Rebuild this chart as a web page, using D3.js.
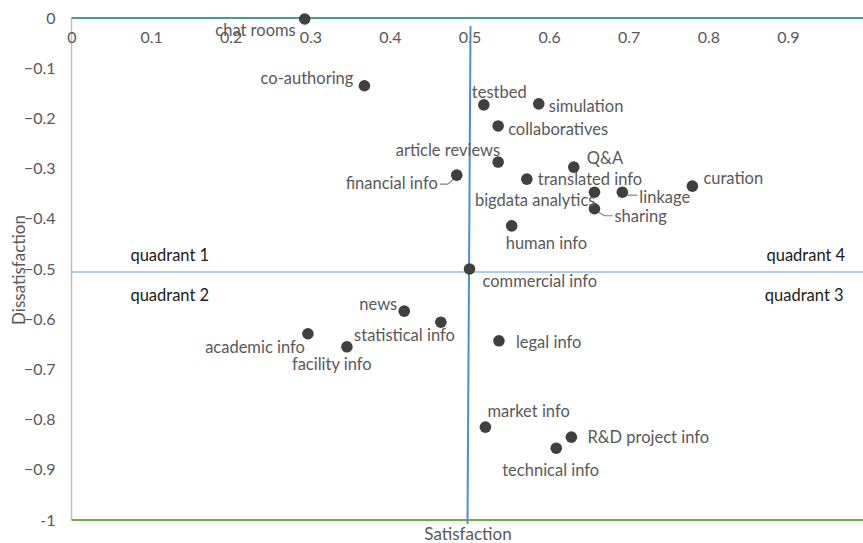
<!DOCTYPE html>
<html>
<head>
<meta charset="utf-8">
<script src="https://cdn.jsdelivr.net/npm/d3@7"></script>
<style>
  html, body { margin: 0; padding: 0; background: #fff; }
  svg { display: block; }
  text { font-family: Lato, "Liberation Sans", sans-serif; }
</style>
</head>
<body>
<svg id="chart" width="863" height="543"></svg>
<script>
// ---- data ----
const names = ["chat rooms","co-authoring","testbed","simulation","collaboratives","article reviews",
  "financial info","Q&A","translated info","bigdata analytics","linkage","curation","sharing",
  "human info","commercial info","news","statistical info","academic info","facility info",
  "legal info","market info","R&D project info","technical info"];
const satisfaction = [0.293,0.368,0.518,0.587,0.536,0.536,0.484,0.631,0.572,0.657,0.692,0.780,0.657,
  0.553,0.500,0.418,0.464,0.297,0.346,0.537,0.520,0.628,0.609];
const dissatisfaction = [-0.002,-0.135,-0.173,-0.171,-0.215,-0.287,-0.313,-0.297,-0.321,-0.347,-0.347,-0.335,-0.380,
  -0.414,-0.500,-0.584,-0.606,-0.629,-0.655,-0.643,-0.815,-0.835,-0.857];
const xTicks = [0,0.1,0.2,0.3,0.4,0.5,0.6,0.7,0.8,0.9];
const yTicks = [0,-0.1,-0.2,-0.3,-0.4,-0.5,-0.6,-0.7,-0.8,-0.9,-1];
const quadrantNames = ["quadrant 1","quadrant 2","quadrant 3","quadrant 4"];
const quadrantX = [0.074,0.074,0.970,0.972];
const quadrantY = [-0.472,-0.552,-0.552,-0.472];
const dividerSatisfaction = 0.5;
const dividerDissatisfaction = -0.506;

// ---- layout (label placement relative to marker) ----
const labelLayout = {
  "chat rooms": [-9, 11, "end"],
  "co-authoring": [-11, -8, "end"],
  "testbed": [-12, -13, "start"],
  "simulation": [10, 2, "start"],
  "collaboratives": [10, 3, "start"],
  "article reviews": [2, -12, "end"],
  "financial info": [-19, 8, "end", [[-17,9],[-9,9],[-2,3]]],
  "Q&A": [13, -9, "start"],
  "translated info": [11, 0, "start"],
  "bigdata analytics": [1, 8, "end"],
  "linkage": [17, 5, "start", [[3,3],[15,3]]],
  "curation": [11, -8, "start"],
  "sharing": [20, 7, "start", [[3,3],[10,7],[18,7]]],
  "human info": [-6, 17, "start"],
  "commercial info": [13, 12, "start"],
  "news": [-7, -7, "end"],
  "statistical info": [14, 13, "end"],
  "academic info": [-3, 13, "end"],
  "facility info": [-55, 17, "start"],
  "legal info": [17, 1, "start"],
  "market info": [2, -16, "start"],
  "R&D project info": [16, 0, "start"],
  "technical info": [-54, 22, "start"]
};

const svg = d3.select("#chart");
const x = d3.scaleLinear().domain([0, 1]).range([71.5, 867.5]);
const y = d3.scaleLinear().domain([-1, 0]).range([520, 18]);
const gray = "#595959";
const FS = 16.5;

// vertical axis line
svg.append("line").attr("x1", x(0)).attr("x2", x(0)).attr("y1", y(0)).attr("y2", y(-1))
  .attr("stroke", "#bfbfbf").attr("stroke-width", 1.5);

// x-axis (top) with labels below the line
const xAxis = d3.axisBottom(x).tickValues(xTicks).tickSize(0).tickPadding(0)
  .tickFormat(d => d === 0 ? "0" : d3.format("")(+d.toFixed(1)));
const gx = svg.append("g").attr("transform", `translate(0,${y(0)})`).call(xAxis);
gx.select(".domain").remove();
gx.selectAll("text").attr("fill", gray).attr("font-size", 16)
  .attr("font-family", "Lato, 'Liberation Sans', sans-serif").attr("dy", "1.0em").attr("y", 9);

// y-axis labels
const yAxis = d3.axisLeft(y).tickValues(yTicks).tickSize(0).tickPadding(0)
  .tickFormat(d => d === 0 ? "0" : (d === -1 ? "-1" : d3.format(".1f")(d)));
const gy = svg.append("g").attr("transform", `translate(${x(0) - 16},0)`).call(yAxis);
gy.select(".domain").remove();
gy.selectAll("text").attr("fill", gray).attr("font-size", 16)
  .attr("font-family", "Lato, 'Liberation Sans', sans-serif");

// top axis line (teal) and bottom line (green)
svg.append("line").attr("x1", x(0)).attr("x2", 863).attr("y1", y(0)).attr("y2", y(0))
  .attr("stroke", "#4b9a97").attr("stroke-width", 2);
svg.append("line").attr("x1", x(0)).attr("x2", 863).attr("y1", y(-1)).attr("y2", y(-1))
  .attr("stroke", "#70ad47").attr("stroke-width", 2);

// divider lines
svg.append("line").attr("x1", x(0)).attr("x2", 863)
  .attr("y1", y(dividerDissatisfaction)).attr("y2", y(dividerDissatisfaction))
  .attr("stroke", "#5b9bd5").attr("stroke-width", 1.2);
svg.append("line").attr("x1", x(dividerSatisfaction) + 1).attr("x2", x(dividerSatisfaction) - 2)
  .attr("y1", y(-0.016)).attr("y2", y(-1.008))
  .attr("stroke", "#4a8fd6").attr("stroke-width", 2);

// quadrant labels
svg.selectAll("text.quad").data(quadrantNames).join("text").attr("class", "quad")
  .attr("x", (d, i) => x(quadrantX[i])).attr("y", (d, i) => y(quadrantY[i]))
  .attr("text-anchor", (d, i) => i >= 2 ? "end" : "start")
  .attr("dominant-baseline", "central")
  .attr("font-size", FS).attr("fill", "#1a1a1a").text(d => d);

// points
const pts = names.map((n, i) => ({ n, sx: satisfaction[i], dy: dissatisfaction[i] }));

// leader lines
pts.forEach(p => {
  const L = labelLayout[p.n];
  if (L && L[3]) {
    const px = x(p.sx), py = y(p.dy);
    svg.append("path")
      .attr("d", d3.line()(L[3].map(o => [px + o[0], py + o[1]])))
      .attr("fill", "none").attr("stroke", "#7f7f7f").attr("stroke-width", 1.2);
  }
});

svg.selectAll("circle.pt").data(pts).join("circle").attr("class", "pt")
  .attr("cx", d => x(d.sx)).attr("cy", d => y(d.dy)).attr("r", 5.8)
  .attr("fill", "#404040");

svg.selectAll("text.lbl").data(pts).join("text").attr("class", "lbl")
  .attr("x", d => x(d.sx) + labelLayout[d.n][0])
  .attr("y", d => y(d.dy) + labelLayout[d.n][1])
  .attr("text-anchor", d => labelLayout[d.n][2])
  .attr("dominant-baseline", "central")
  .attr("font-size", FS).attr("fill", gray).text(d => d.n);

// axis titles
svg.append("text").attr("x", 468).attr("y", 533).attr("text-anchor", "middle")
  .attr("dominant-baseline", "central").attr("font-size", 17).attr("fill", gray).text("Satisfaction");
svg.append("text").attr("transform", "translate(18,270) rotate(-90)").attr("text-anchor", "middle")
  .attr("dominant-baseline", "central").attr("font-size", 17).attr("fill", gray).text("Dissatisfaction");
</script>
</body>
</html>
